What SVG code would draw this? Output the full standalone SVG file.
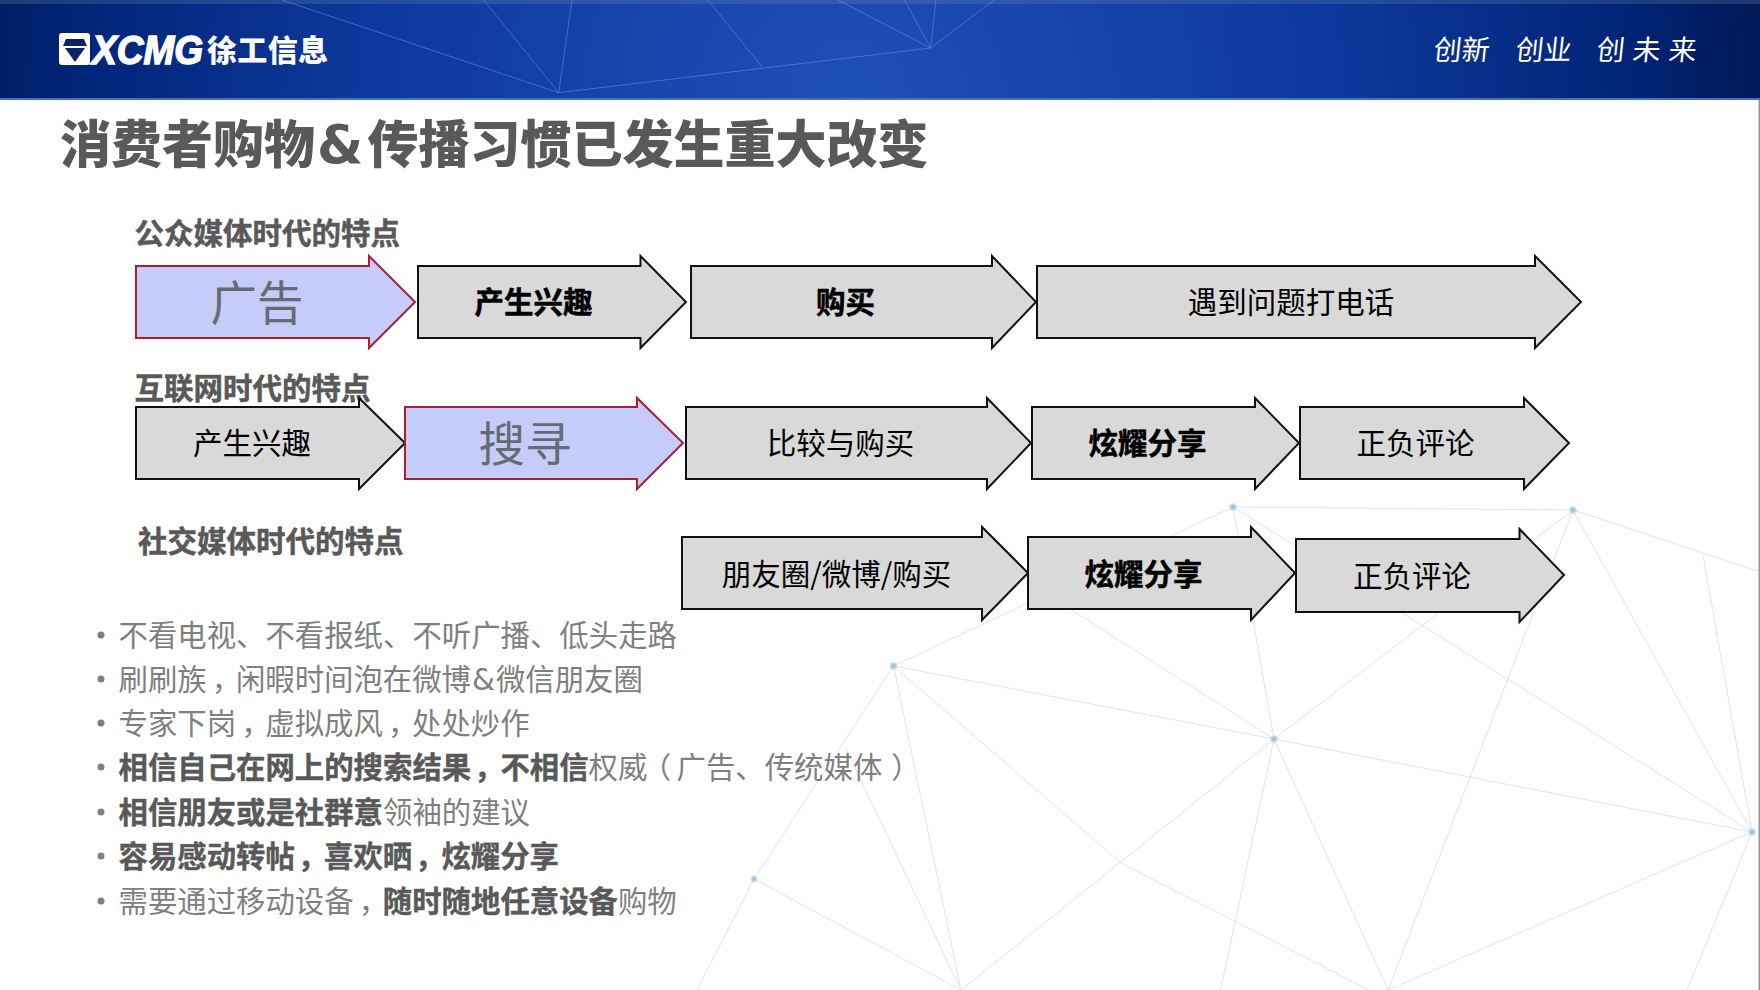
<svg xmlns="http://www.w3.org/2000/svg" width="1760" height="990" viewBox="0 0 1760 990">
<style>
text{font-family:"Noto Sans CJK SC","Liberation Sans",sans-serif}
.g{fill:#d9d9d9;stroke:#111;stroke-width:2}
.b{fill:#c6ccf9;stroke:#ab1f32;stroke-width:2}
.l{font-size:29.5px;fill:#000;text-anchor:middle;dominant-baseline:central}
.k{font-weight:700;stroke:#000;stroke-width:.5}
.big{font-size:46.500px;fill:#666a73;text-anchor:middle;dominant-baseline:central}
.h{font-size:29.500px;font-weight:700;fill:#595959;stroke:#595959;stroke-width:.5}
.t{font-size:29.400px;fill:#7f7f7f}
.t .s{font-weight:700;fill:#595959;stroke:#595959;stroke-width:.4}
.p{font-feature-settings:"palt"}
.amp{font-family:"DejaVu Sans",sans-serif}
.n{stroke:#e4e2e8;stroke-width:1;fill:none}
.hl{stroke:#6d90dc;stroke-width:1;fill:none;opacity:.55}
.dot{fill:url(#dg)}
.bu{fill:#7f7f7f}
.sl{font-size:28px;fill:#fff;font-weight:400}
</style>
<defs>
<radialGradient id="hg" gradientUnits="userSpaceOnUse" cx="850" cy="100" r="900">
<stop offset="0" stop-color="#1f4fb9"/><stop offset=".55" stop-color="#0d389b"/><stop offset=".85" stop-color="#012578"/><stop offset="1" stop-color="#001a5a"/>
</radialGradient>
<radialGradient id="dg"><stop offset="0" stop-color="#8fc0dc"/><stop offset=".5" stop-color="#a9cfe4"/><stop offset="1" stop-color="#dbe9f3" stop-opacity=".3"/></radialGradient>
</defs>
<g id="background">
<g id="net">
<path class="n" d="M1233 507L1573 510M1233 507L893.5 666M1233 507L1274 739M1233 507L1752 832M1573 510L1274 739M1573 510L1388 990M1573 510L1752 832M1573 510L1760 572M1703 555L1752 832M893.5 666L1274 739M1274 739L1752 832M893.5 666L754 879M754 879L697 990M754 879L961 990M893.5 666L961 990M893.5 666L1121 863L1369 990M845 747L961 990M1274 739L961 990M1274 739L1220.6 990M1274 739L1388 990M1752 832L1388 990M1752 832L1687 990M1040 590L1274 739"/>
<circle class="dot" cx="1233" cy="507" r="4.500"/><circle class="dot" cx="1573" cy="510" r="4.500"/><circle class="dot" cx="893.5" cy="666" r="4.500"/><circle class="dot" cx="1274" cy="739" r="4.500"/><circle class="dot" cx="754" cy="879" r="4"/><circle class="dot" cx="1752" cy="832" r="4.500"/>
</g>
<rect x="1758.5" y="100" width="1.500" height="890" fill="#8c9a9c"/>
</g>
<g id="header">
<rect x="0" y="0" width="1760" height="99" fill="url(#hg)"/>
<rect x="0" y="0" width="1760" height="4" fill="#7d8fb0" opacity=".25"/>
<rect x="0" y="98" width="1760" height="2" fill="#4a70b8"/>
<path class="hl" d="M282 0L558.7 92.7M483.7 0L558.7 92.7M572 0L558.7 92.7M558.7 92.7L930.6 48M708 0L763 68M838 0L930.6 48M904.6 0L930.6 48M936 0L930.6 48M994 0L930.6 48"/>
<g id="logo">
<rect x="59" y="33" width="31" height="32" rx="3" fill="#fff"/>
<path d="M66 39H84L87 46H63Z" fill="#0a2465"/>
<path d="M65 48H85L75 62Z" fill="#0a2465"/>
<text x="92" y="64" font-size="40" font-weight="700" font-style="italic" fill="#fff" stroke="#fff" stroke-width="1.500" textLength="111" lengthAdjust="spacingAndGlyphs" style="font-family:'Liberation Sans',sans-serif">XCMG</text>
<text x="207" y="61" font-size="30" font-weight="900" fill="#fff" textLength="121">徐工信息</text>
</g>
<g transform="skewX(-6)">
<text class="sl" x="1439" y="60">创新</text>
<text class="sl" x="1521" y="60">创业</text>
<text class="sl" x="1602" y="60" textLength="100">创未来</text>
</g>
</g>
<text id="title" y="163" font-size="51" font-weight="900" fill="#595959"><tspan x="60">消费者购物</tspan><tspan class="amp" x="317" font-size="53" font-weight="700">&amp;</tspan><tspan x="367.500">传播习惯已发生重大改变</tspan></text>
<g id="headings">
<text class="h" x="134.500" y="244">公众媒体时代的特点</text>
<text class="h" x="134.500" y="399">互联网时代的特点</text>
<text class="h" x="138" y="552">社交媒体时代的特点</text>
</g>
<g id="connectors"></g>
<g id="row1">
<g id="a1"><path class="b" d="M136 266H369V256L415 302L369 348V338H136Z"/><text class="big" x="257" y="299.500">广告</text></g>
<g id="a2"><path class="g" d="M418 266H640.500V256L686 302L640.500 348V338H418Z"/><text class="l k" x="533.500" y="300">产生兴趣</text></g>
<g id="a3"><path class="g" d="M691 266H992V256L1036 302L992 348V338H691Z"/><text class="l k" x="845.500" y="300">购买</text></g>
<g id="a4"><path class="g" d="M1037 266H1535V256L1581 302L1535 348V338H1037Z"/><text class="l" x="1291" y="300">遇到问题打电话</text></g>
</g>
<g id="row2">
<g id="b1"><path class="g" d="M136 407H359V398L405 443L359 489V479H136Z"/><text class="l" x="252" y="441">产生兴趣</text></g>
<g id="b2"><path class="b" d="M405 407H637V398L683 443L637 489V479H405Z"/><text class="big" x="525" y="440.500">搜寻</text></g>
<g id="b3"><path class="g" d="M686 407H987V398L1031 443L987 489V479H686Z"/><text class="l" x="840.500" y="441">比较与购买</text></g>
<g id="b4"><path class="g" d="M1032 407H1255V398L1299 443L1255 489V479H1032Z"/><text class="l k" x="1147.500" y="441">炫耀分享</text></g>
<g id="b5"><path class="g" d="M1300 407H1524V398L1569 443L1524 489V479H1300Z"/><text class="l" x="1415.500" y="441">正负评论</text></g>
</g>
<g id="row3">
<g id="c1"><path class="g" d="M682 537H982V527L1028 573L982 620V609H682Z"/><text class="l" x="836.500" y="572">朋友圈/微博/购买</text></g>
<g id="c2"><path class="g" d="M1028 537H1251V527L1295 573L1251 620V609H1028Z"/><text class="l k" x="1143.500" y="572">炫耀分享</text></g>
<g id="c3"><path class="g" d="M1296 539H1519.500V529L1564 575L1519.500 622V612H1296Z"/><text class="l" x="1412" y="574">正负评论</text></g>
</g>
<g id="bullets">
<circle class="bu" cx="101" cy="635" r="3.500"/><circle class="bu" cx="101" cy="679" r="3.500"/><circle class="bu" cx="101" cy="723" r="3.500"/><circle class="bu" cx="101" cy="767" r="3.500"/><circle class="bu" cx="101" cy="812" r="3.500"/><circle class="bu" cx="101" cy="856" r="3.500"/><circle class="bu" cx="101" cy="901" r="3.500"/>
<text class="t" x="118.500" y="646">不看电视、不看报纸、不听广播、低头走路</text>
<text class="t" x="118.500" y="690">刷刷族<tspan class="p" dx="7">，</tspan><tspan dx="7.500">闲暇时间泡在微博</tspan><tspan class="amp" dx="1">&amp;</tspan><tspan dx="1">微信朋友圈</tspan></text>
<text class="t" x="118.500" y="734">专家下岗<tspan class="p" dx="7">，</tspan><tspan dx="7.500">虚拟成风</tspan><tspan class="p" dx="7">，</tspan><tspan dx="7.500">处处炒作</tspan></text>
<text class="t" x="118.500" y="778"><tspan class="s">相信自己在网上的搜索结果</tspan><tspan class="s p" dx="7">，</tspan><tspan class="s" dx="7.500">不相信</tspan>权威<tspan class="p" dx="8">（</tspan><tspan dx="6.500">广告、传统媒体</tspan><tspan class="p" dx="10">）</tspan></text>
<text class="t" x="118.500" y="823"><tspan class="s">相信朋友或是社群意</tspan>领袖的建议</text>
<text class="t" x="118.500" y="867"><tspan class="s">容易感动转帖</tspan><tspan class="s p" dx="7">，</tspan><tspan class="s" dx="7.500">喜欢晒</tspan><tspan class="s p" dx="7">，</tspan><tspan class="s" dx="7.500">炫耀分享</tspan></text>
<text class="t" x="118.500" y="912">需要通过移动设备<tspan class="p" dx="7">，</tspan><tspan class="s" dx="7.500">随时随地任意设备</tspan>购物</text>
</g>
</svg>
